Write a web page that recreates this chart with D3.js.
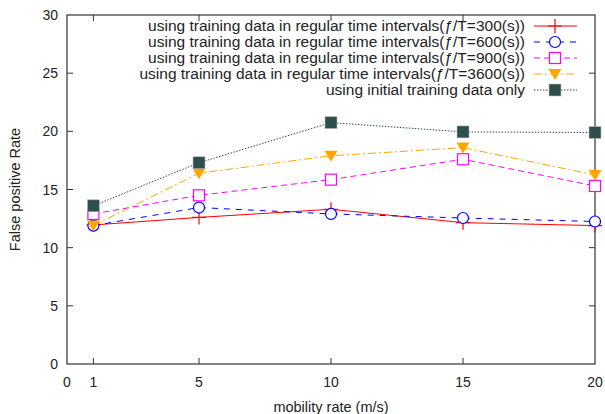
<!DOCTYPE html>
<html>
<head>
<meta charset="utf-8">
<script src="https://cdn.jsdelivr.net/npm/d3@7"></script>
<style>
  body { margin: 0; background: #fff; }
  text { font-family: "Liberation Sans", Arial, sans-serif; }
</style>
</head>
<body>
<div id="chart"></div>
<script>
// data
const mobility = [1, 5, 10, 15, 20];
const xTicks = [0, 1, 5, 10, 15, 20];
const yTicks = [0, 5, 10, 15, 20, 25, 30];
const seriesNames = [
  "using training data in regular time intervals(\u0192/T=300(s))",
  "using training data in regular time intervals(\u0192/T=600(s))",
  "using training data in regular time intervals(\u0192/T=900(s))",
  "using training data in regular time intervals(\u0192/T=3600(s))",
  "using initial training data only"
];
const fp300 = [11.95, 12.6, 13.3, 12.15, 11.9];
const fp600 = [11.9, 13.45, 12.9, 12.55, 12.25];
const fp900 = [12.9, 14.5, 15.85, 17.6, 15.3];
const fp3600 = [11.9, 16.4, 17.9, 18.6, 16.25];
const fpInitial = [13.6, 17.3, 20.75, 19.95, 19.9];

const styles = [
  { color: "#ff0000", dash: null, marker: "plus" },
  { color: "#0000ff", dash: "6,6", marker: "circle" },
  { color: "#ff00ff", dash: "6,4", marker: "square" },
  { color: "#ffa500", dash: "8,3,2,3", marker: "tri" },
  { color: "#2f4f4f", dash: "1.5,1.5", marker: "fsquare" }
];
const allSeries = [fp300, fp600, fp900, fp3600, fpInitial];

const W = 605, H = 414;
const m = { left: 67, right: 10, top: 15, bottom: 50 };

const svg = d3.select("#chart").append("svg")
  .attr("width", W).attr("height", H);

const x = d3.scaleLinear().domain([0, 20]).range([m.left, W - m.right]);
const y = d3.scaleLinear().domain([0, 30]).range([H - m.bottom, m.top]);

const axisColor = "#333";
const tickLen = 6;

// border + mirrored inward ticks
svg.append("rect")
  .attr("x", x(0)).attr("y", y(30))
  .attr("width", x(20) - x(0)).attr("height", y(0) - y(30))
  .attr("fill", "none").attr("stroke", axisColor).attr("stroke-width", 1.2);

const ax = svg.append("g").attr("stroke", axisColor).attr("stroke-width", 1);
yTicks.slice(1, -1).forEach(t => {
  ax.append("line").attr("x1", x(0)).attr("x2", x(0) + tickLen).attr("y1", y(t)).attr("y2", y(t));
  ax.append("line").attr("x1", x(20)).attr("x2", x(20) - tickLen).attr("y1", y(t)).attr("y2", y(t));
});
xTicks.slice(1, -1).forEach(t => {
  ax.append("line").attr("x1", x(t)).attr("x2", x(t)).attr("y1", y(0)).attr("y2", y(0) - tickLen);
  ax.append("line").attr("x1", x(t)).attr("x2", x(t)).attr("y1", y(30)).attr("y2", y(30) + tickLen);
});

svg.append("g").selectAll("text").data(yTicks).join("text")
  .attr("x", x(0) - 9).attr("y", d => y(d) + 5)
  .attr("text-anchor", "end").attr("font-size", 14).attr("fill", "#222")
  .text(d => d);

svg.append("g").selectAll("text").data(xTicks).join("text")
  .attr("x", d => x(d)).attr("y", y(0) + 23)
  .attr("text-anchor", "middle").attr("font-size", 14).attr("fill", "#222")
  .text(d => d);

svg.append("text")
  .attr("x", x(10)).attr("y", H - 2)
  .attr("text-anchor", "middle").attr("font-size", 14.5).attr("fill", "#222")
  .text("mobility rate (m/s)");

svg.append("text")
  .attr("transform", `translate(20,${y(15)}) rotate(-90)`)
  .attr("text-anchor", "middle").attr("font-size", 14.5).attr("fill", "#222")
  .text("False positive Rate");

function drawMarker(g, type, cx, cy, color) {
  if (type === "plus") {
    g.append("path").attr("d", `M${cx - 7},${cy}H${cx + 7}M${cx},${cy - 7}V${cy + 7}`)
      .attr("stroke", color).attr("stroke-width", 1.2).attr("fill", "none");
  } else if (type === "circle") {
    g.append("circle").attr("cx", cx).attr("cy", cy).attr("r", 5.5)
      .attr("fill", "#fff").attr("stroke", color).attr("stroke-width", 1.2);
  } else if (type === "square") {
    g.append("rect").attr("x", cx - 5.5).attr("y", cy - 5.5).attr("width", 11).attr("height", 11)
      .attr("fill", "#fff").attr("stroke", color).attr("stroke-width", 1.2);
  } else if (type === "tri") {
    g.append("path").attr("d", `M${cx - 6.5},${cy - 5}L${cx + 6.5},${cy - 5}L${cx},${cy + 6}Z`)
      .attr("fill", color);
  } else if (type === "fsquare") {
    g.append("rect").attr("x", cx - 6).attr("y", cy - 6).attr("width", 12).attr("height", 12)
      .attr("fill", color).attr("stroke", "#bbb").attr("stroke-width", 0.6);
  }
}

const line = d3.line().x((d, i) => x(mobility[i])).y(d => y(d));

allSeries.forEach((vals, k) => {
  const st = styles[k];
  const g = svg.append("g");
  g.append("path").datum(vals).attr("d", line)
    .attr("fill", "none").attr("stroke", st.color).attr("stroke-width", 1)
    .attr("stroke-dasharray", st.dash);
  vals.forEach((v, i) => drawMarker(g, st.marker, x(mobility[i]), y(v), st.color));
});

// legend
const legY = [26, 42, 58, 74, 90];
const leg = svg.append("g");
seriesNames.forEach((name, k) => {
  const st = styles[k];
  leg.append("text").attr("x", 525).attr("y", legY[k] + 5)
    .attr("text-anchor", "end").attr("font-size", 15.5).attr("fill", "#222")
    .text(name);
  leg.append("line").attr("x1", 534).attr("x2", 577).attr("y1", legY[k]).attr("y2", legY[k])
    .attr("stroke", st.color).attr("stroke-width", 1).attr("stroke-dasharray", st.dash);
  drawMarker(leg, st.marker, 555, legY[k], st.color);
});
</script>
</body>
</html>
